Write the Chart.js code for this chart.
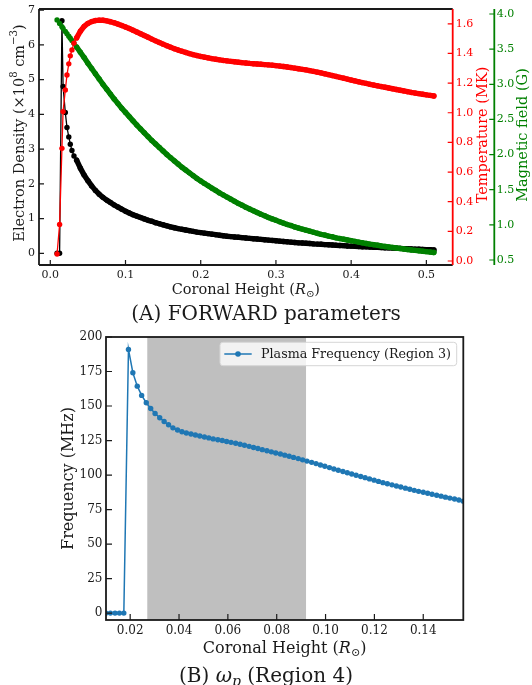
<!DOCTYPE html>
<html lang="en">
<head>
  <meta charset="UTF-8">
  <title>FORWARD parameters and plasma frequency</title>

  <!-- Chart.js -->
  <script src="https://cdn.jsdelivr.net/npm/chart.js"></script>

  <style>
    html, body { margin: 0; padding: 0; background: #fff; }
    #wrap { position: relative; width: 532px; height: 685px; overflow: hidden; }
    canvas { position: absolute; left: 0; }
    #topChart { top: 0; }
    #bottomChart { top: 320px; }
  </style>
</head>

<body>
  <div id="wrap">
    <canvas id="topChart" width="532" height="345"></canvas>
    <canvas id="bottomChart" width="532" height="365"></canvas>
  </div>

  <script>
    // ---- (A) FORWARD parameters along coronal height (R_sun) ----
    const heightTop = [
      0.0090, 0.0124, 0.0155, 0.0170, 0.0200, 0.0222, 0.0246, 0.0266, 0.0288, 0.0315,
      0.035, 0.040, 0.045, 0.050, 0.055, 0.060, 0.065, 0.070, 0.075, 0.080,
      0.085, 0.090, 0.095, 0.100, 0.105, 0.110, 0.115, 0.120, 0.125, 0.130,
      0.135, 0.140, 0.145, 0.150, 0.155, 0.160, 0.165, 0.170, 0.175, 0.180,
      0.185, 0.190, 0.195, 0.200, 0.205, 0.210, 0.215, 0.220, 0.225, 0.230,
      0.235, 0.240, 0.245, 0.250, 0.255, 0.260, 0.265, 0.270, 0.275, 0.280,
      0.285, 0.290, 0.295, 0.300, 0.305, 0.310, 0.315, 0.320, 0.325, 0.330,
      0.335, 0.340, 0.345, 0.350, 0.355, 0.360, 0.365, 0.370, 0.375, 0.380,
      0.385, 0.390, 0.395, 0.400, 0.405, 0.410, 0.415, 0.420, 0.425, 0.430,
      0.435, 0.440, 0.445, 0.450, 0.455, 0.460, 0.465, 0.470, 0.475, 0.480,
      0.485, 0.490, 0.495, 0.500, 0.505, 0.510
    ];

    // electron density, 1e8 cm^-3
    const densityTop = [
      0, 0, 6.69, 4.80, 4.05, 3.62, 3.35, 3.14, 2.96, 2.80,
      2.68, 2.45, 2.25, 2.09, 1.94, 1.81, 1.70, 1.61, 1.53, 1.46,
      1.39, 1.33, 1.27, 1.21, 1.16, 1.11, 1.07, 1.03, 0.99, 0.95,
      0.92, 0.88, 0.85, 0.82, 0.79, 0.76, 0.735, 0.71, 0.69, 0.67,
      0.65, 0.63, 0.61, 0.595, 0.58, 0.565, 0.55, 0.535, 0.52, 0.505,
      0.49, 0.48, 0.47, 0.46, 0.45, 0.44, 0.43, 0.42, 0.41, 0.40,
      0.39, 0.38, 0.37, 0.36, 0.35, 0.34, 0.33, 0.32, 0.31, 0.30,
      0.295, 0.29, 0.28, 0.27, 0.265, 0.26, 0.25, 0.245, 0.24, 0.23,
      0.225, 0.22, 0.21, 0.205, 0.20, 0.195, 0.19, 0.185, 0.18, 0.175,
      0.17, 0.165, 0.16, 0.155, 0.15, 0.145, 0.14, 0.135, 0.13, 0.125,
      0.12, 0.115, 0.11, 0.105, 0.10, 0.095
    ];

    // temperature, MK
    const temperatureTop = [
      0.047, 0.247, 0.76, 1.008, 1.154, 1.255, 1.33, 1.384, 1.424, 1.47,
      1.505, 1.55, 1.583, 1.603, 1.615, 1.622, 1.625, 1.624, 1.62, 1.614,
      1.607, 1.598, 1.589, 1.579, 1.568, 1.557, 1.545, 1.533, 1.521, 1.509,
      1.497, 1.485, 1.474, 1.463, 1.452, 1.442, 1.432, 1.423, 1.415, 1.407,
      1.399, 1.392, 1.386, 1.38, 1.375, 1.37, 1.365, 1.361, 1.357, 1.353,
      1.35, 1.347, 1.344, 1.341, 1.338, 1.336, 1.333, 1.331, 1.329, 1.327,
      1.325, 1.323, 1.321, 1.318, 1.315, 1.312, 1.309, 1.305, 1.301, 1.297,
      1.293, 1.289, 1.284, 1.279, 1.274, 1.269, 1.263, 1.257, 1.251, 1.245,
      1.239, 1.233, 1.227, 1.221, 1.215, 1.209, 1.203, 1.198, 1.192, 1.187,
      1.182, 1.177, 1.172, 1.167, 1.162, 1.157, 1.152, 1.147, 1.142, 1.137,
      1.133, 1.129, 1.125, 1.121, 1.117, 1.113
    ];

    // magnetic field, G
    const fieldTop = [
      3.914, 3.864, 3.818, 3.796, 3.752, 3.72, 3.685, 3.655, 3.623, 3.583,
      3.53, 3.455, 3.38, 3.30, 3.225, 3.15, 3.075, 3.00, 2.93, 2.86,
      2.79, 2.725, 2.66, 2.60, 2.54, 2.48, 2.42, 2.365, 2.31, 2.255,
      2.20, 2.15, 2.10, 2.05, 2.00, 1.955, 1.91, 1.865, 1.82, 1.78,
      1.74, 1.70, 1.66, 1.625, 1.59, 1.555, 1.52, 1.49, 1.455, 1.425,
      1.395, 1.365, 1.335, 1.305, 1.28, 1.25, 1.225, 1.20, 1.175, 1.15,
      1.13, 1.105, 1.085, 1.065, 1.045, 1.025, 1.005, 0.99, 0.97, 0.955,
      0.94, 0.925, 0.91, 0.895, 0.88, 0.865, 0.855, 0.84, 0.83, 0.815,
      0.805, 0.795, 0.785, 0.775, 0.765, 0.755, 0.745, 0.735, 0.725, 0.718,
      0.71, 0.70, 0.692, 0.685, 0.678, 0.671, 0.664, 0.657, 0.65, 0.643,
      0.637, 0.631, 0.625, 0.619, 0.613, 0.607
    ];

    const topHeightTicks = [0, 0.1, 0.2, 0.3, 0.4, 0.5];
    const densityTicks = [0, 1, 2, 3, 4, 5, 6, 7];
    const temperatureTicks = [0, 0.2, 0.4, 0.6, 0.8, 1.0, 1.2, 1.4, 1.6];
    const fieldTicks = [0.5, 1.0, 1.5, 2.0, 2.5, 3.0, 3.5, 4.0];

    // ---- (B) plasma frequency, region 3 profile ----
    const heightBottom = [
      0.0101, 0.0119, 0.0138, 0.0156, 0.0174, 0.0193, 0.0211, 0.0229, 0.0247, 0.0266,
      0.0284, 0.0302, 0.0321, 0.0339, 0.0357, 0.0375, 0.0394, 0.0412, 0.0430, 0.0449,
      0.0467, 0.0485, 0.0504, 0.0522, 0.0540, 0.0559, 0.0577, 0.0595, 0.0613, 0.0632,
      0.0650, 0.0668, 0.0687, 0.0705, 0.0723, 0.0741, 0.0760, 0.0778, 0.0796, 0.0815,
      0.0833, 0.0851, 0.0869, 0.0888, 0.0906, 0.0924, 0.0943, 0.0961, 0.0979, 0.0997,
      0.1016, 0.1034, 0.1052, 0.1071, 0.1089, 0.1107, 0.1125, 0.1144, 0.1162, 0.1180,
      0.1199, 0.1217, 0.1235, 0.1253, 0.1272, 0.1290, 0.1308, 0.1327, 0.1345, 0.1363,
      0.1381, 0.1400, 0.1418, 0.1436, 0.1455, 0.1473, 0.1491, 0.1509, 0.1528, 0.1546,
      0.1564
    ];

    // MHz
    const freqBottom = [
      0, 0, 0, 0, 0, 191.0, 174.1, 164.4, 157.7, 152.4,
      148.2, 144.6, 141.5, 138.8, 136.4, 134.2, 132.6, 131.4, 130.5, 129.7,
      129.0, 128.3, 127.6, 126.9, 126.2, 125.6, 125.0, 124.3, 123.7, 123.0,
      122.3, 121.6, 120.8, 120.0, 119.2, 118.4, 117.6, 116.8, 116.0, 115.2,
      114.4, 113.6, 112.8, 111.9, 111.0, 110.1, 109.2, 108.3, 107.3, 106.4,
      105.4, 104.4, 103.5, 102.6, 101.7, 100.8, 99.9, 99.0, 98.1, 97.2,
      96.3, 95.4, 94.5, 93.7, 92.9, 92.1, 91.3, 90.5, 89.7, 88.9,
      88.2, 87.5, 86.8, 86.1, 85.4, 84.7, 84.0, 83.3, 82.6, 81.9,
      81.1
    ];

    const bottomHeightTicks = [0.02, 0.04, 0.06, 0.08, 0.10, 0.12, 0.14];
    const freqTicks = [0, 25, 50, 75, 100, 125, 150, 175, 200];
    const shadeBand = [0.027, 0.092];   // region 4 height span

    // ---- shared drawing helpers ----
    const SERIF = '"DejaVu Serif", "Liberation Serif", serif';
    const INK = '#1a1a1a';
    const RED = '#ff0000';
    const GREEN = '#008000';
    const BLUE = '#1f77b4';

    Chart.defaults.font.family = SERIF;

    const pts = (xs, ys) => xs.map((x, i) => ({ x: x, y: ys[i] }));

    // lock an axis box to a fixed size so the plot area lands where we want
    const fitW = w => s => { s.width = w; s.paddingTop = 0; s.paddingBottom = 0; };
    const fitH = h => s => { s.height = h; s.paddingLeft = 0; s.paddingRight = 0; };
    const useTicks = list => s => { s.ticks = list.map(v => ({ value: v })); };

    // text made of pieces: plain strings or {t, it, sup, sub}
    function drawRich(ctx, parts, x, y, size, color, rot) {
      ctx.save();
      ctx.translate(x, y);
      if (rot) ctx.rotate(rot);
      ctx.fillStyle = color;
      ctx.textBaseline = 'alphabetic';
      ctx.textAlign = 'left';
      const pieces = parts.map(p => {
        const o = typeof p === 'string' ? { t: p } : p;
        const fs = (o.sup || o.sub) ? size * 0.7 : size;
        const font = (o.it ? 'italic ' : '') + fs + 'px ' + SERIF;
        ctx.font = font;
        const dy = o.sup ? -size * 0.42 : o.sub ? size * 0.2 : 0;
        return { t: o.t, font: font, dy: dy, w: ctx.measureText(o.t).width };
      });
      let cx = -pieces.reduce((s, p) => s + p.w, 0) / 2;
      pieces.forEach(p => {
        ctx.font = p.font;
        ctx.fillText(p.t, cx, p.dy);
        cx += p.w;
      });
      ctx.restore();
    }

    function seg(ctx, x1, y1, x2, y2, color, w) {
      ctx.strokeStyle = color;
      ctx.lineWidth = w;
      ctx.beginPath();
      ctx.moveTo(x1, y1);
      ctx.lineTo(x2, y2);
      ctx.stroke();
    }

    // tick marks pointing into the plot
    function ticksIn(ctx, scale, edge, dir, len, color) {
      ctx.strokeStyle = color;
      ctx.lineWidth = 1.2;
      ctx.beginPath();
      scale.ticks.forEach(t => {
        const p = scale.getPixelForValue(t.value);
        if (scale.isHorizontal()) { ctx.moveTo(p, edge); ctx.lineTo(p, edge + dir * len); }
        else { ctx.moveTo(edge, p); ctx.lineTo(edge + dir * len, p); }
      });
      ctx.stroke();
    }

    const heightLabel = ['Coronal Height (', { t: 'R', it: true }, { t: '\u2299', sub: true }, ')'];
    const densityLabel = ['Electron Density (\u00d710', { t: '8', sup: true }, ' cm', { t: '\u22123', sup: true }, ')'];

    const axisFont = size => ({ family: SERIF, size: size });

    // ---- top chart ----
    const topDecor = {
      id: 'topDecor',
      afterDraw(chart) {
        const { ctx, chartArea: a, scales } = chart;
        ctx.save();
        ticksIn(ctx, scales.x, a.bottom, -1, 5, INK);
        ticksIn(ctx, scales.y, a.left, 1, 5, INK);
        ticksIn(ctx, scales.yT, a.right, -1, 5, RED);
        ticksIn(ctx, scales.yB, scales.yB.left, -1, 5, GREEN);

        seg(ctx, a.left, a.top, a.right, a.top, INK, 1.8);
        seg(ctx, a.left, a.top, a.left, a.bottom, INK, 1.8);
        seg(ctx, a.left, a.bottom, a.right, a.bottom, INK, 1.8);
        seg(ctx, a.right, a.top, a.right, a.bottom, RED, 1.8);
        seg(ctx, scales.yB.left, a.top, scales.yB.left, a.bottom, GREEN, 1.8);

        const midY = (a.top + a.bottom) / 2;
        drawRich(ctx, heightLabel, (a.left + a.right) / 2, 294, 14.5, INK, 0);
        drawRich(ctx, densityLabel, 23.5, midY - 4, 14.5, INK, -Math.PI / 2);
        drawRich(ctx, ['Temperature (MK)'], 487, midY - 2, 14.5, RED, -Math.PI / 2);
        drawRich(ctx, ['Magnetic field (G)'], 527, midY - 2, 14.5, GREEN, -Math.PI / 2);
        drawRich(ctx, ['(A) FORWARD parameters'], 266, 320, 20, INK, 0);
        ctx.restore();
      }
    };

    // past the first few samples the profile is densely sampled and the
    // markers merge into a solid band; a wide stroke there gives the same look
    const denseFrom = 10;

    const lineSet = (label, ys, axis, color) => ({
      label: label,
      data: pts(heightTop, ys),
      yAxisID: axis,
      showLine: true,
      borderColor: color,
      backgroundColor: color,
      borderWidth: 1.3,
      borderCapStyle: 'round',
      borderJoinStyle: 'round',
      segment: { borderWidth: c => (c.p0DataIndex >= denseFrom ? 5.4 : 1.3) },
      pointRadius: 2.7,
      pointBorderWidth: 0,
      pointBackgroundColor: color
    });

    new Chart(document.getElementById('topChart'), {
      type: 'scatter',
      data: {
        // first dataset is painted last, so temperature sits on top
        datasets: [
          lineSet('Temperature (MK)', temperatureTop, 'yT', RED),
          lineSet('Magnetic field (G)', fieldTop, 'yB', GREEN),
          lineSet('Electron Density', densityTop, 'y', '#000000')
        ]
      },
      options: {
        responsive: false,
        animation: false,
        layout: { padding: { top: 9, left: 0, right: 0, bottom: 0 } },
        plugins: { legend: { display: false }, tooltip: { enabled: false } },
        scales: {
          x: {
            type: 'linear', min: -0.015, max: 0.535,
            afterBuildTicks: useTicks(topHeightTicks),
            afterFit: fitH(80),
            grid: { display: false, drawTicks: false },
            border: { display: false },
            ticks: { font: axisFont(11), color: INK, padding: 4, maxRotation: 0, autoSkip: false,
                     callback: v => v.toFixed(1) }
          },
          y: {
            position: 'left', min: -0.337, max: 7.03,
            afterBuildTicks: useTicks(densityTicks),
            afterFit: fitW(39),
            grid: { display: false, drawTicks: false },
            border: { display: false },
            ticks: { font: axisFont(11), color: INK, padding: 4, callback: v => v.toFixed(0) }
          },
          yT: {
            position: 'right', min: -0.027, max: 1.70,
            afterBuildTicks: useTicks(temperatureTicks),
            afterFit: fitW(41.6),
            grid: { display: false, drawTicks: false },
            border: { display: false },
            ticks: { font: axisFont(11), color: RED, padding: 3, callback: v => v.toFixed(1) }
          },
          yB: {
            position: 'right', min: 0.429, max: 4.071,
            afterBuildTicks: useTicks(fieldTicks),
            afterFit: fitW(37.7),
            grid: { display: false, drawTicks: false },
            border: { display: false },
            ticks: { font: axisFont(11), color: GREEN, padding: 2.5, callback: v => v.toFixed(1) }
          }
        }
      },
      plugins: [topDecor]
    });

    // ---- bottom chart ----
    const bottomDecor = {
      id: 'bottomDecor',
      beforeDatasetsDraw(chart) {
        const { ctx, chartArea: a, scales } = chart;
        const x0 = scales.x.getPixelForValue(shadeBand[0]);
        const x1 = scales.x.getPixelForValue(shadeBand[1]);
        ctx.save();
        ctx.fillStyle = 'rgba(128,128,128,0.5)';
        ctx.fillRect(x0, a.top, x1 - x0, a.bottom - a.top);
        ctx.restore();
      },
      afterDraw(chart) {
        const { ctx, chartArea: a, scales } = chart;
        ctx.save();
        ticksIn(ctx, scales.x, a.bottom, -1, 6, INK);
        ticksIn(ctx, scales.y, a.left, 1, 6, INK);
        ctx.strokeStyle = INK;
        ctx.lineWidth = 1.8;
        ctx.strokeRect(a.left, a.top, a.right - a.left, a.bottom - a.top);

        // legend box
        const lx = 220, ly = a.top + 5.3, lw = 236.7, lh = 23.4, my = ly + lh / 2;
        ctx.beginPath();
        ctx.roundRect(lx, ly, lw, lh, 3);
        ctx.fillStyle = 'rgba(255,255,255,0.8)';
        ctx.fill();
        ctx.strokeStyle = '#d6d6d6';
        ctx.lineWidth = 1;
        ctx.stroke();
        seg(ctx, lx + 4.3, my, lx + 31.7, my, BLUE, 1.5);
        ctx.fillStyle = BLUE;
        ctx.beginPath();
        ctx.arc(lx + 18, my, 2.8, 0, Math.PI * 2);
        ctx.fill();
        ctx.fillStyle = INK;
        ctx.font = '12.7px ' + SERIF;
        ctx.textBaseline = 'middle';
        ctx.textAlign = 'left';
        ctx.fillText('Plasma Frequency (Region 3)', lx + 41, my + 0.5);

        drawRich(ctx, ['Frequency (MHz)'], 73, (a.top + a.bottom) / 2, 16, INK, -Math.PI / 2);
        drawRich(ctx, heightLabel, (a.left + a.right) / 2, 333, 16, INK, 0);
        drawRich(ctx, ['(B) ', { t: '\u03c9', it: true }, { t: 'p', it: true, sub: true }, ' (Region 4)'],
                 266, 362, 20, INK, 0);
        ctx.restore();
      }
    };

    new Chart(document.getElementById('bottomChart'), {
      type: 'scatter',
      data: {
        datasets: [{
          label: 'Plasma Frequency (Region 3)',
          data: pts(heightBottom, freqBottom),
          showLine: true,
          borderColor: BLUE,
          backgroundColor: BLUE,
          borderWidth: 1.5,
          pointRadius: 2.7,
          pointBorderWidth: 0,
          pointBackgroundColor: BLUE,
          clip: 0
        }]
      },
      options: {
        responsive: false,
        animation: false,
        layout: { padding: { top: 17, left: 0, right: 68.7, bottom: 0 } },
        plugins: { legend: { display: false }, tooltip: { enabled: false } },
        scales: {
          x: {
            type: 'linear', min: 0.0101, max: 0.1564,
            afterBuildTicks: useTicks(bottomHeightTicks),
            afterFit: fitH(65),
            grid: { display: false, drawTicks: false },
            border: { display: false },
            ticks: { font: axisFont(12), color: INK, padding: 4, maxRotation: 0, autoSkip: false,
                     callback: v => v.toFixed(2) }
          },
          y: {
            min: -5, max: 200,
            afterBuildTicks: useTicks(freqTicks),
            afterFit: fitW(106),
            grid: { display: false, drawTicks: false },
            border: { display: false },
            ticks: { font: axisFont(12), color: INK, padding: 3.5, callback: v => v.toFixed(0) }
          }
        }
      },
      plugins: [bottomDecor]
    });
  </script>
</body>
</html>
